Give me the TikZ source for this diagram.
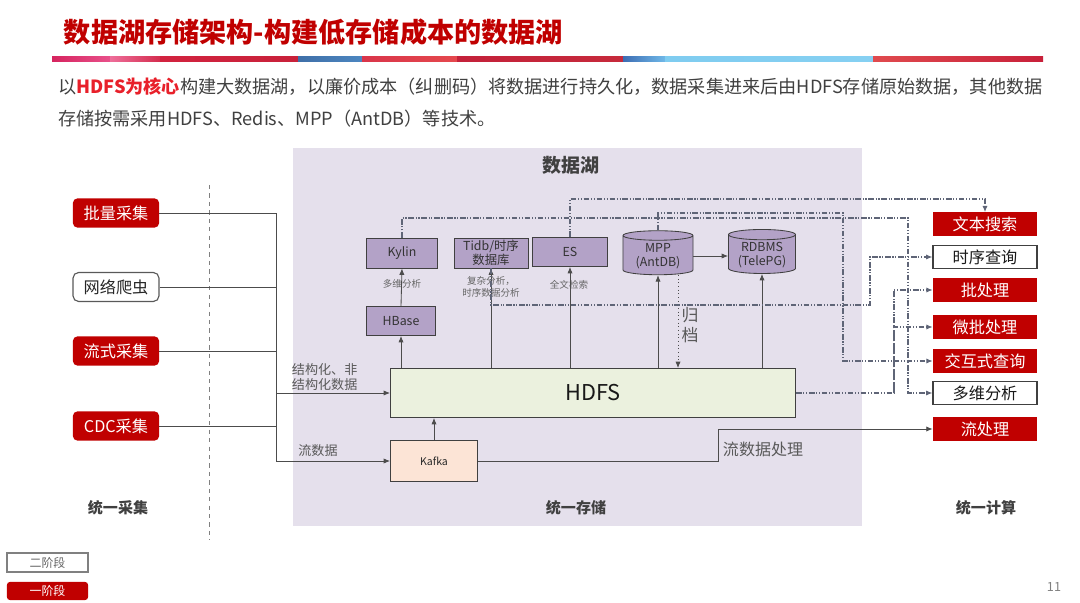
\documentclass[tikz,border=0pt]{standalone}
\usepackage{fontspec}
\setmainfont{Noto Sans CJK SC}
\usetikzlibrary{positioning, arrows.meta, shapes.geometric}
\definecolor{hired}{HTML}{C00000}
\definecolor{keyred}{HTML}{E8202A}
\definecolor{purp}{HTML}{B3A2C7}
\definecolor{lakebg}{HTML}{E5E0EC}
\definecolor{hdfsbg}{HTML}{EBF1DE}
\definecolor{kafkabg}{HTML}{FCE4D6}
\definecolor{ddgray}{HTML}{5F6577}
\definecolor{bodygray}{HTML}{404040}

\begin{document}
\begin{tikzpicture}[
		x=0.025cm, y=-0.025cm,
		>={Latex[length=1.6mm,width=1.3mm]},
		srcred/.style={fill=hired, text=white, rounded corners=3pt, minimum width=2.15cm, minimum height=0.725cm, inner sep=0pt, font=\fontsize{11.5}{12}\selectfont},
		srcwhite/.style={srcred, fill=white, draw=black!65, thick, text=black!85, rounded corners=4pt},
		apred/.style={fill=hired, text=white, minimum width=2.6cm, minimum height=0.575cm, inner sep=0pt, font=\fontsize{11.5}{12}\selectfont},
		apwhite/.style={apred, fill=white, draw=black!75, thick, text=black!90},
		sbox/.style={draw=black!75, semithick, fill=purp, minimum height=0.75cm, inner sep=1pt, align=center, text=black!80, font=\fontsize{8.8}{9.5}\selectfont},
		dbcyl/.style={cylinder, shape border rotate=90, aspect=0.2, draw=black!75, semithick, fill=purp, minimum width=1.75cm, minimum height=1.1cm, inner sep=1pt, align=center, text=black!80, font=\fontsize{8.8}{10}\selectfont},
		note/.style={text=black!60, align=center, font=\fontsize{6.8}{9}\selectfont},
		sect/.style={text=black!75, font=\fontsize{10.7}{12}\selectfont\bfseries},
		dd/.style={draw=ddgray, thick, dash pattern=on 4pt off 1.2pt on 0.8pt off 1.2pt on 0.8pt off 1.2pt},
		wire/.style={draw=black!70, semithick},
	]
	\useasboundingbox (0,0) rectangle (1080,603);

	% header
	\node[anchor=west, text=hired, font=\fontsize{19.3}{21}\selectfont\bfseries] (title) at (59,32) {数据湖存储架构-构建低存储成本的数据湖};
	\foreach \xa/\xb/\ca/\cb in {52/110/D6245F/E8508A, 110/160/EE6E9A/D42D4E, 160/298/D2233F/C8213A, 298/362/3F6FA8/4C86C0, 362/457/D9354A/E5484D, 457/623/C4213A/C62A3B, 623/665/3D6DB3/6FB8E8, 665/873/7FCCF0/86D0F2, 873/1043/E04A4E/C8203A}{
		\definecolor{stripa}{HTML}{\ca}
		\definecolor{stripb}{HTML}{\cb}
		\fill[left color=stripa, right color=stripb] (\xa,57) rectangle (\xb,62);
	}
	\node[anchor=west, text=bodygray, font=\fontsize{12.9}{14}\selectfont, inner sep=0pt] (para1) at (58,87) {以{\color{keyred}\bfseries HDFS为核心}构建大数据湖，以廉价成本（纠删码）将数据进行持久化，数据采集进来后由HDFS存储原始数据，其他数据};
	\node[anchor=west, text=bodygray, font=\fontsize{12.9}{14}\selectfont, inner sep=0pt] (para2) at (58,119) {存储按需采用HDFS、Redis、MPP（AntDB）等技术。};

	% data lake area
	\fill[lakebg] (293,148) rectangle (862,526);
	\node[text=black!75, font=\fontsize{13.5}{15}\selectfont\bfseries] (lake) at (571,165) {数据湖};
	\draw[dashed, black!50] (209,185) -- (209,540);

	% collection
	\node[srcred] (batch) at (116,213) {批量采集};
	\node[srcwhite] (crawl) at (116,287) {网络爬虫};
	\node[srcred] (stream) at (116,351) {流式采集};
	\node[srcred] (cdc) at (116,426) {CDC采集};

	% storage
	\node[sbox, minimum width=1.775cm] (kylin) at (402,253) {Kylin};
	\node[sbox, minimum width=1.85cm, font=\fontsize{8.8}{8.8}\selectfont] (tidb) at (491,253) {Tidb/时序\\数据库};
	\node[sbox, minimum width=1.875cm, minimum height=0.725cm] (es) at (570,252) {ES};
	\node[dbcyl] (mpp) at (658,256) {MPP\\(AntDB)};
	\node[dbcyl, minimum width=1.675cm] (rdbms) at (762,255) {RDBMS\\(TelePG)};
	\node[sbox, minimum width=1.725cm, minimum height=0.725cm] (hbase) at (401,321) {HBase};
	\node[draw=black!75, semithick, fill=hdfsbg, minimum width=10.125cm, minimum height=1.225cm, font=\fontsize{15.5}{17}\selectfont, text=black!90] (hdfs) at (593,393) {HDFS};
	\node[draw=black!75, semithick, fill=kafkabg, minimum width=2.175cm, minimum height=1.025cm, font=\fontsize{7.5}{9}\selectfont, text=black!85] (kafka) at (434,461) {Kafka};

	\node[note] (multi) at (402,284) {多维分析};
	\node[note, font=\fontsize{6.8}{8.4}\selectfont] (complex) at (491,287) {复杂分析，\\时序数据分析};
	\node[note] (fulltext) at (569,285) {全文检索};
	\node[text=black!65, align=center, font=\fontsize{12}{14}\selectfont] (archive) at (690,325) {归\\档};

	% computing
	\node[apred] (txt) at (985,224) {文本搜索};
	\node[apwhite] (tsq) at (985,257) {时序查询};
	\node[apred] (bproc) at (985,290) {批处理};
	\node[apred] (mbproc) at (985,327) {微批处理};
	\node[apred] (interq) at (985,361) {交互式查询};
	\node[apwhite] (olap) at (985,393) {多维分析};
	\node[apred] (sproc) at (985,429) {流处理};

	\node[sect] (colsec) at (118,508) {统一采集};
	\node[sect] (stosec) at (576,508) {统一存储};
	\node[sect] (cmpsec) at (986,508) {统一计算};

	% collection bus
	\coordinate (bus) at (276,213);
	\draw[wire, ->] (batch.east) -- (bus) |- (kafka.west);
	\draw[wire] (crawl.east) -- (crawl.east -| bus);
	\draw[wire] (stream.east) -- (stream.east -| bus);
	\draw[wire] (cdc.east) -- (cdc.east -| bus);
	\draw[wire, ->] (hdfs.west -| bus) -- (hdfs.west);
	\node[anchor=west, align=left, text=black!65, font=\fontsize{9.3}{10.5}\selectfont] (structlbl) at (287,377) {结构化、非\\结构化数据};
	\node[text=black!65, font=\fontsize{9.3}{10.5}\selectfont] (streamlbl) at (318,451) {流数据};

	% storage links
	\draw[wire, ->] (hbase.south |- hdfs.north) -- (hbase.south);
	\draw[wire, ->] (hbase.north) -- (kylin.south);
	\draw[wire, ->] (tidb.south |- hdfs.north) -- (tidb.south);
	\draw[wire, ->] (es.south |- hdfs.north) -- (es.south);
	\draw[wire, ->] (mpp.south |- hdfs.north) -- (mpp.south);
	\draw[wire, ->] (rdbms.south |- hdfs.north) -- (rdbms.south);
	\draw[wire, ->] (mpp.east) -- (rdbms.west |- mpp.east);
	\draw[black!70, dotted, semithick, ->] ([xshift=0.5cm]mpp.south) -- ([xshift=0.5cm]mpp.south |- hdfs.north);
	\draw[wire, ->] (kafka.north) -- (kafka.north |- hdfs.south);

	% to computing
	\coordinate (kbend) at (718,461);
	\draw[wire, ->] (kafka.east) -- (kbend) |- (sproc.west);
	\node[anchor=west, text=black!65, font=\fontsize{11.4}{12}\selectfont] (sproclbl) at (718,449) {流数据处理};

	\coordinate (esup) at (571,199);
	\coordinate (kyup) at (908,218);
	\coordinate (mpup) at (843,213);
	\coordinate (tdup) at (870,305);
	\coordinate (hdup) at (894,393);
	\draw[dd, ->] (es.north) |- (esup) -| (txt.north);
	\draw[dd, ->] (kylin.north) |- (kyup) |- (olap.west);
	\draw[dd, ->] (mpp.north) |- (mpup) |- (interq.west);
	\draw[dd, ->] (tidb.south) |- (tdup) |- (tsq.west);
	\draw[dd, ->] (hdfs.east) -- (hdup) |- (bproc.west);
	\draw[dd, ->] (hdup) |- (mbproc.west);

	% legend
	\node[draw=black!50, thick, fill=white, minimum width=2.025cm, minimum height=0.475cm, inner sep=0pt, text=black!60, font=\fontsize{8.5}{9}\selectfont] (stage2) at (47.5,562.5) {二阶段};
	\node[fill=hired, rounded corners=2pt, minimum width=2.025cm, minimum height=0.45cm, inner sep=0pt, text=white, font=\fontsize{8.5}{9}\selectfont] (stage1) at (47.5,591) {一阶段};
	\node[text=black!50, font=\fontsize{9}{10}\selectfont] (pageno) at (1054,587) {11};
\end{tikzpicture}
\end{document}
